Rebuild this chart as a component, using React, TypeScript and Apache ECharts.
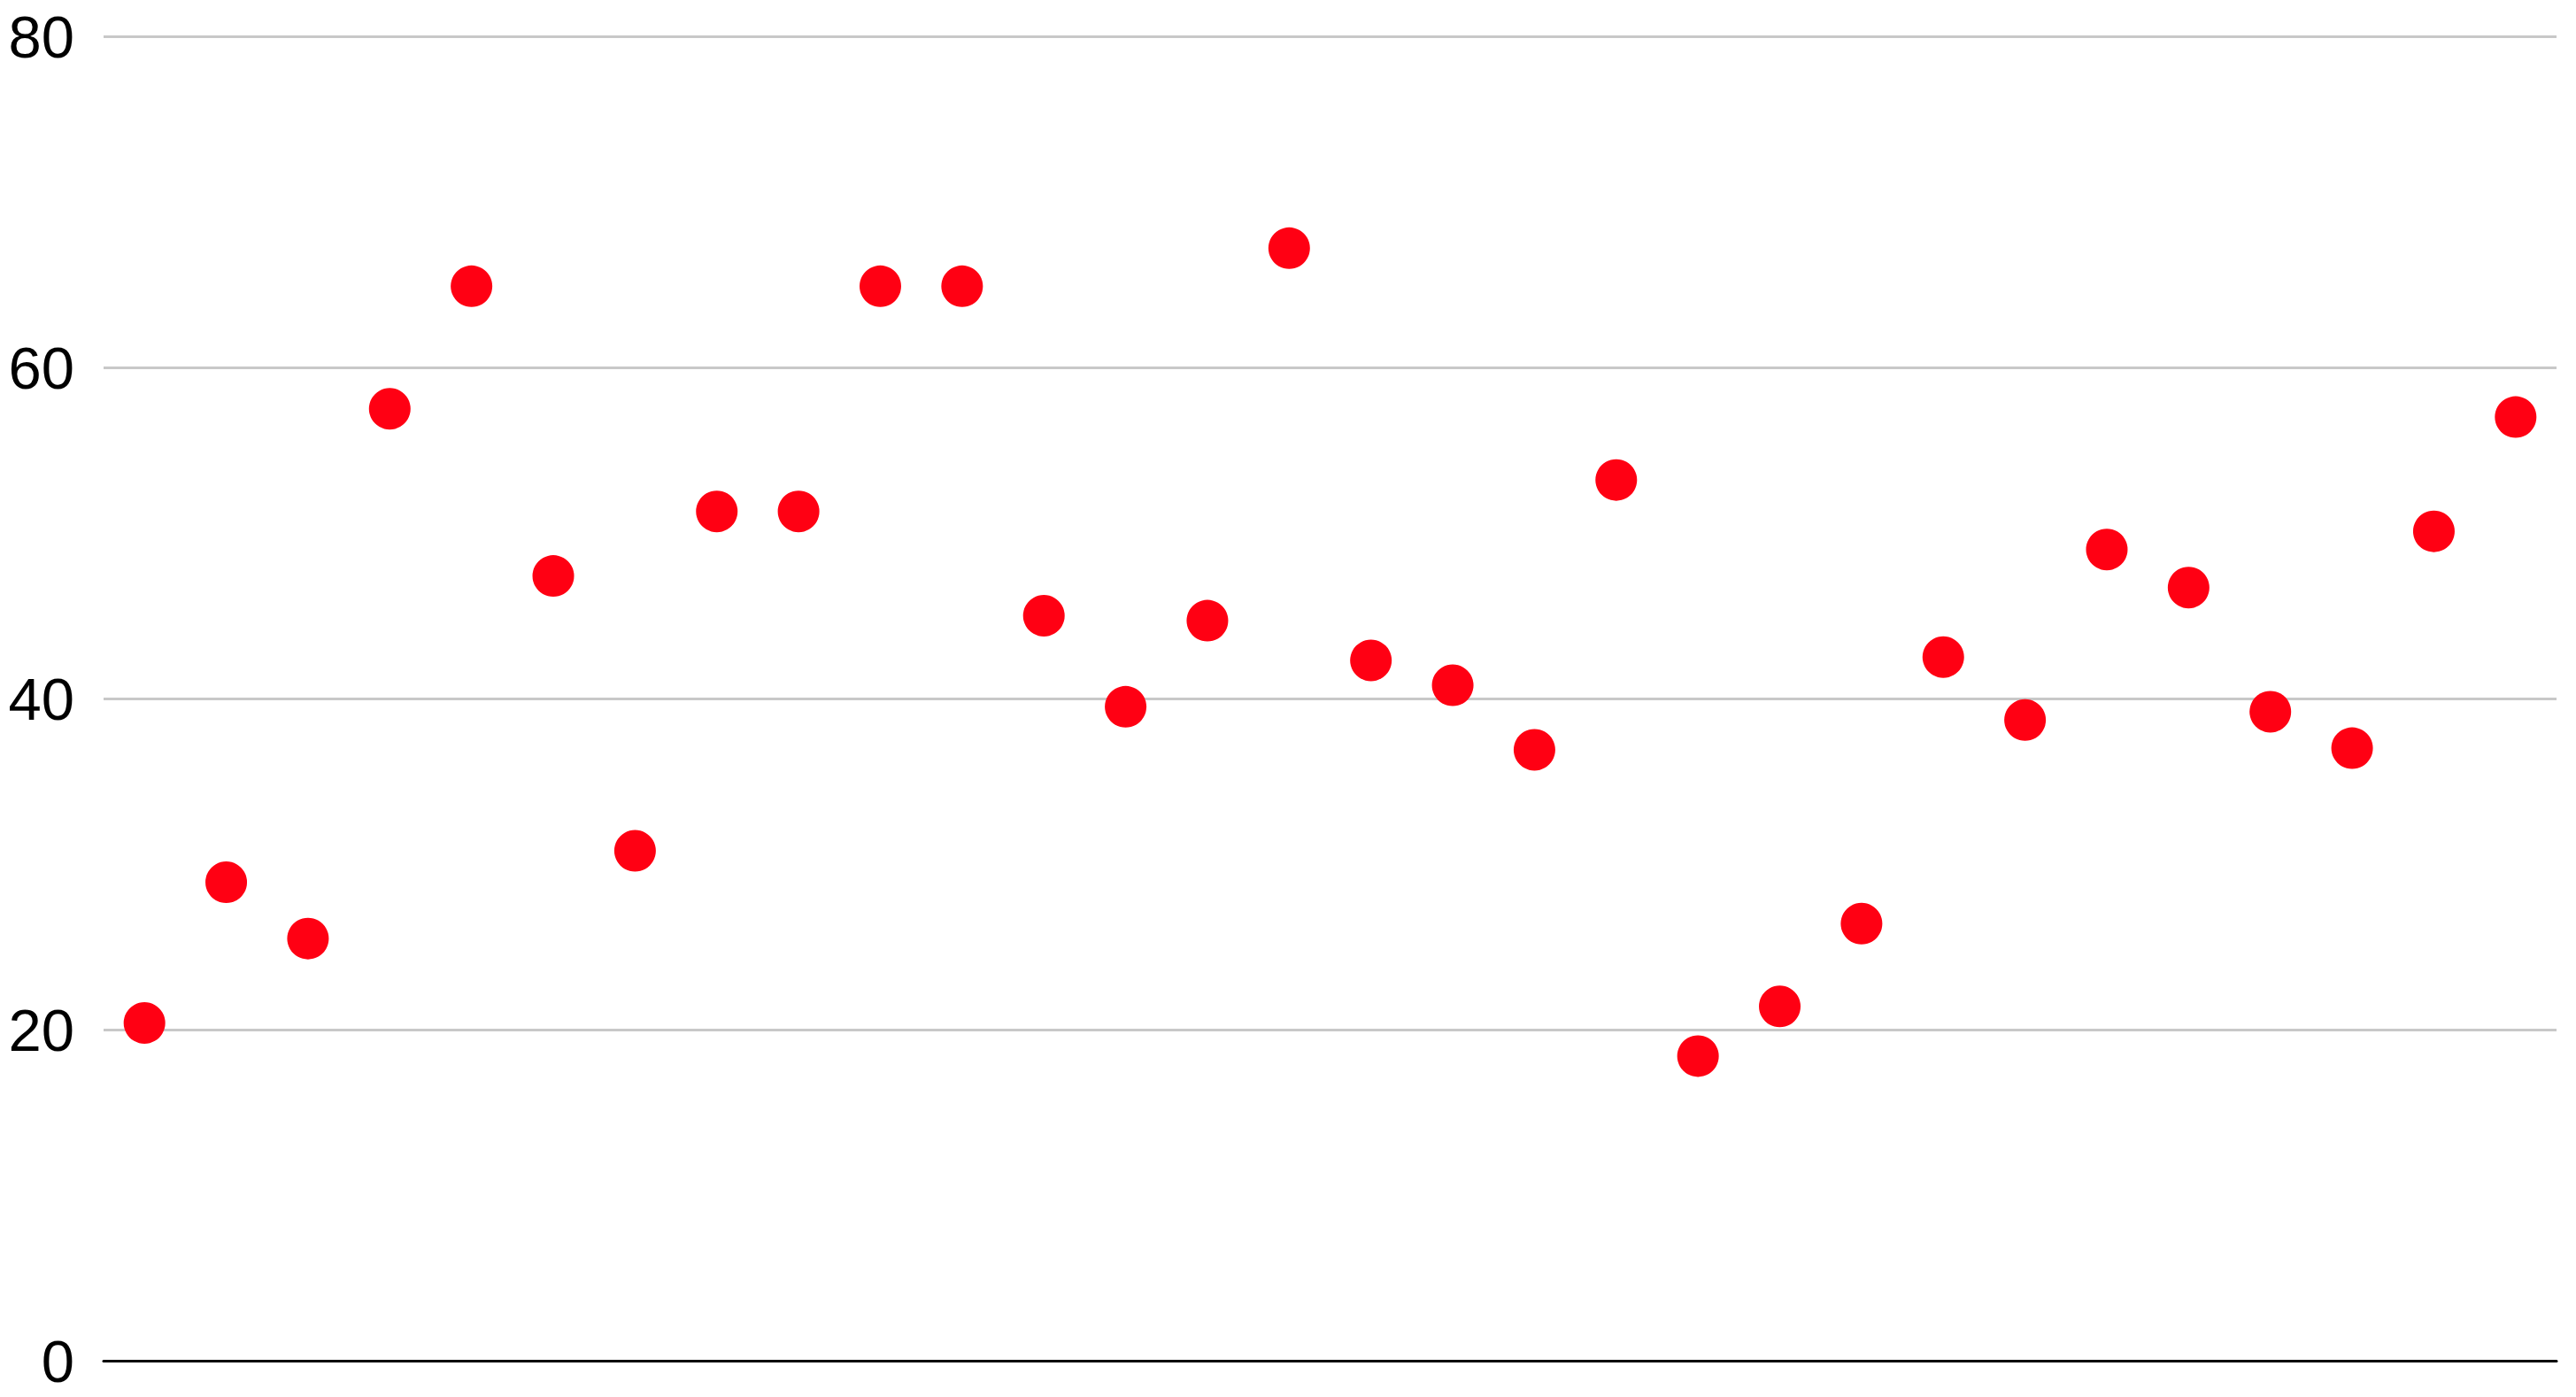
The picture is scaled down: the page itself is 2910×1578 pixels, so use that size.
import React, { useEffect, useRef } from "react";
import * as echarts from "echarts";

const categories: string[] = Array.from({ length: 30 }, (_, i) => String(i + 1));
const values: number[] = [
  20.4, 28.9, 25.5, 57.5, 64.9, 47.4, 30.8, 51.3, 51.3, 64.9,
  64.9, 45.0, 39.5, 44.7, 67.2, 42.3, 40.8, 36.9, 53.2, 18.4,
  21.4, 26.4, 42.5, 38.7, 49.0, 46.7, 39.2, 37.0, 50.1, 57.0,
];
const yTicks = { min: 0, max: 80, interval: 20 };

export default function App() {
  const ref = useRef<HTMLDivElement>(null);
  useEffect(() => {
    if (!ref.current) return;
    const chart = echarts.init(ref.current, undefined, { renderer: "svg" });
    chart.setOption({
      animation: false,
      backgroundColor: "#ffffff",
      grid: { left: 117, right: 22, top: 41, bottom: 41, containLabel: false },
      xAxis: {
        type: "category",
        data: categories,
        boundaryGap: true,
        axisLine: { show: true, lineStyle: { color: "#000000", width: 3 } },
        axisTick: { show: false },
        axisLabel: { show: false },
        splitLine: { show: false },
      },
      yAxis: {
        type: "value",
        min: yTicks.min,
        max: yTicks.max,
        interval: yTicks.interval,
        axisLine: { show: false },
        axisTick: { show: false },
        axisLabel: {
          color: "#000000",
          fontSize: 67,
          fontFamily: "Liberation Sans, Arial, sans-serif",
          margin: 33,
        },
        splitLine: { show: true, lineStyle: { color: "#c8c8c8", width: 3 } },
      },
      series: [
        {
          type: "scatter",
          data: values,
          symbol: "circle",
          symbolSize: 47,
          itemStyle: { color: "#ff0013", opacity: 1 },
        },
      ],
    });
    return () => chart.dispose();
  }, []);
  return (
    <div
      ref={ref}
      style={{ position: "fixed", left: 0, top: 0, width: 2910, height: 1578 }}
    />
  );
}
